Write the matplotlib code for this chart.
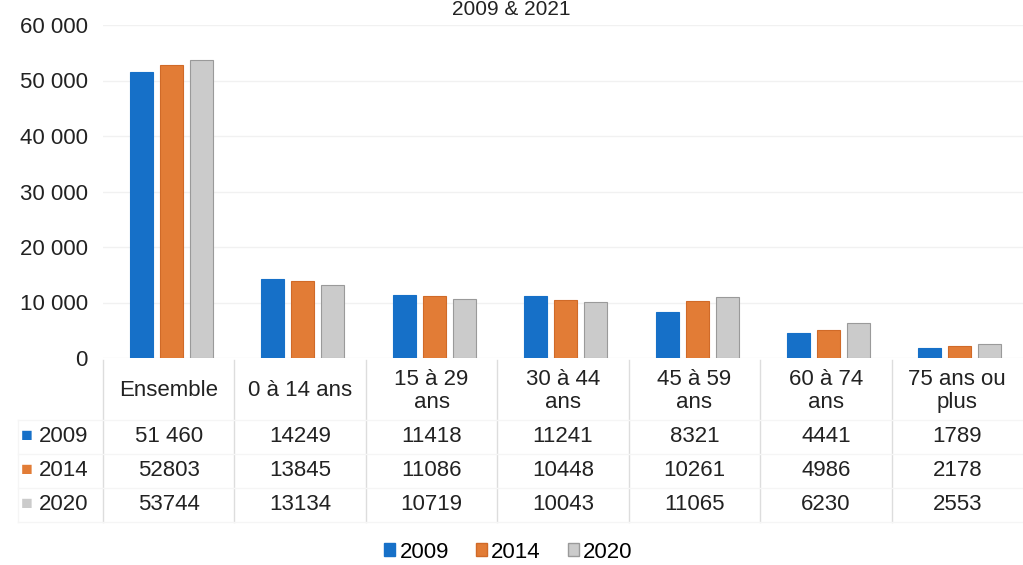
import matplotlib.pyplot as plt
import matplotlib.transforms as mtransforms
from matplotlib.patches import Patch

plt.rcParams['font.family'] = ['Liberation Sans', 'DejaVu Sans']

categories = ['Ensemble', '0 à 14 ans', '15 à 29\nans', '30 à 44\nans', '45 à 59\nans', '60 à 74\nans', '75 ans ou\nplus']
years = ['2009', '2014', '2020']
v2009 = [51460, 14249, 11418, 11241, 8321, 4441, 1789]
v2014 = [52803, 13845, 11086, 10448, 10261, 4986, 2178]
v2020 = [53744, 13134, 10719, 10043, 11065, 6230, 2553]
labels2009 = ['51 460', '14249', '11418', '11241', '8321', '4441', '1789']
labels2014 = ['52803', '13845', '11086', '10448', '10261', '4986', '2178']
labels2020 = ['53744', '13134', '10719', '10043', '11065', '6230', '2553']
yticks = [0, 10000, 20000, 30000, 40000, 50000, 60000]
ytick_labels = ['0', '10 000', '20 000', '30 000', '40 000', '50 000', '60 000']

colors = ['#1670c8', '#e27c36', '#cbcbcb']
edges = ['#1670c8', '#d06a28', '#9a9a9a']
fs = 16

W, H = 1023, 565
fig = plt.figure(figsize=(W / 100, H / 100), dpi=100)
ax = fig.add_axes([103 / W, 1 - 358 / H, (1023 - 103) / W, (358 - 25) / H])

series = [v2009, v2014, v2020]
x = list(range(len(categories)))
width = 0.175
pitch = 0.228
for i, vals in enumerate(series):
    xs = [xi + (i - 1) * pitch + 0.02 for xi in x]
    ax.bar(xs, vals, width=width, color=colors[i], edgecolor=edges[i], linewidth=0.8, zorder=3)

ax.set_xlim(-0.5, len(categories) - 0.5)
ax.set_ylim(0, 60000)
ax.set_yticks(yticks)
ax.set_yticklabels(ytick_labels, fontsize=fs, color='#222222')
ax.tick_params(axis='y', length=0, pad=11)
ax.set_xticks([])
ax.grid(axis='y', color='#f1f1f1', linewidth=1, zorder=0)
for s in ax.spines.values():
    s.set_visible(False)

# title, only its lower part shows in the reference
fig.text(0.5, 1.0, '2009 & 2021', ha='center', va='top', fontsize=15, color='#222222')

# data table under the plot
tr = mtransforms.blended_transform_factory(ax.transData, fig.transFigure)
def fy(py):
    return 1 - py / H

for xi, cat in zip(x, categories):
    ax.text(xi, fy(391), cat, transform=tr, ha='center', va='center', fontsize=fs,
            color='#222222', linespacing=1.12)
row_y = [437, 471, 505]
row_labels = [labels2009, labels2014, labels2020]
for ry, labs in zip(row_y, row_labels):
    for xi, lab in zip(x, labs):
        ax.text(xi, fy(ry), lab, transform=tr, ha='center', va='center', fontsize=fs, color='#222222')

for i, (ry, yr) in enumerate(zip(row_y, years)):
    fig.text(21 / W, fy(ry), '■', ha='left', va='center', fontsize=14, color=colors[i])
    fig.text(39 / W, fy(ry), yr, ha='left', va='center', fontsize=fs, color='#222222')

sep_color = '#dddddd'
for xi in x:
    ax.plot([xi - 0.5, xi - 0.5], [fy(360), fy(522)], transform=tr, color=sep_color,
            linewidth=1, clip_on=False)
for ry in [420, 454, 488, 522]:
    fig.add_artist(plt.Line2D([18 / W, 1.0], [fy(ry), fy(ry)], color='#f5f5f5', linewidth=1))
fig.add_artist(plt.Line2D([18 / W, 18 / W], [fy(420), fy(522)], color='#f5f5f5', linewidth=1))

handles = [Patch(facecolor=colors[i], edgecolor=edges[i], label=years[i]) for i in range(3)]
fig.legend(handles=handles, loc='center', bbox_to_anchor=(0.497, fy(552)), ncol=3, frameon=False,
           fontsize=fs, handlelength=0.5, handleheight=0.5, handletextpad=0.2, columnspacing=1.2)

fig.savefig('out.png', dpi=100)
